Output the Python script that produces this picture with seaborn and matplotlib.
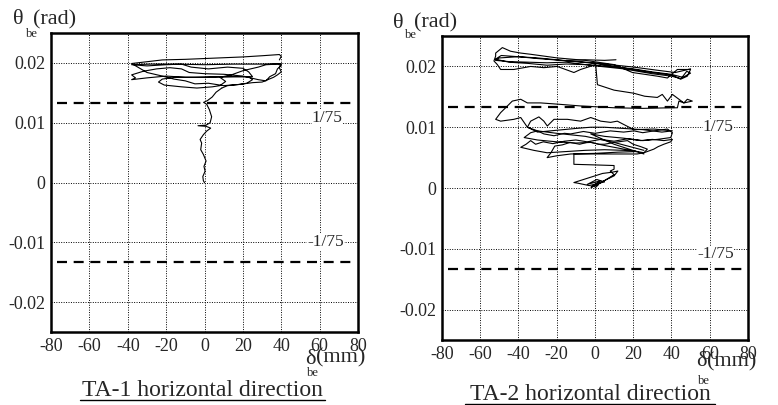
import matplotlib
matplotlib.use("Agg")
import matplotlib.pyplot as plt
import seaborn as sns
from matplotlib.lines import Line2D

sns.set_style("white")
plt.rcParams['font.family'] = ['Liberation Serif', 'DejaVu Serif']
plt.rcParams['axes.unicode_minus'] = False

# ---- data ----
x_ticks = [-80, -60, -40, -20, 0, 20, 40, 60, 80]
y_ticks = [-0.02, -0.01, 0, 0.01, 0.02]
y_tick_labels = ['-0.02', '-0.01', '0', '0.01', '0.02']
limit = 1 / 75

# TA-1: climb from origin, then loops at the top
ta1_rise_x = [0.0, -0.6, -0.9, 0.3, -0.3, 0.8, -0.6, -2.0, -1.5, -2.3, -0.6, 1.1, 3.2,
              0.8, -3.4, 0.8, 2.9, 3.7, 2.5, 1.1, -0.5, 1.5, 4.0, 6.0, 9.0]
ta1_rise_y = [0.0000, 0.0003, 0.0010, 0.0019, 0.0027, 0.0036, 0.0047, 0.0055, 0.0066,
              0.0072, 0.0080, 0.0086, 0.0091, 0.0094, 0.0095, 0.0096, 0.0100, 0.0110,
              0.0122, 0.0131, 0.0134, 0.0137, 0.0143, 0.0151, 0.0158]
ta1_loop_x = [9, 12, 18, 22, 25, 23, 10, -5, -15, -22, -24, -21, -12, -4, 4, 8, 11, 8,
              14, 20, 24, 28, 32, 38, 40, 38, 37, 34, 32, 28, 20, 10, 0, -8, -12, -18,
              -25, -32, -38, -36, -38, -30, -20, -10, 0, 15, 25, 23, 20, 12, 2, -7, -12,
              -20, -30, -38, -28, -15, 0, 15, 30, 40, 39, 40, 38, 36, 33, 30, 25, 18,
              10, 2, -5, -10, -16, -22, -30, -38, -30, -22, -10, 5, 20, 30, 39, 40, 39]
ta1_loop_y = [0.0158, 0.0162, 0.0164, 0.0166, 0.0172, 0.0177, 0.0177, 0.0176, 0.0176,
              0.0173, 0.0168, 0.0163, 0.0160, 0.0158, 0.0160, 0.0162, 0.0169, 0.0176,
              0.0180, 0.0187, 0.0190, 0.0193, 0.0197, 0.0198, 0.0196, 0.0190, 0.0182,
              0.0177, 0.0170, 0.0172, 0.0178, 0.0181, 0.0182, 0.0184, 0.0190, 0.0192,
              0.0190, 0.0186, 0.0180, 0.0175, 0.0172, 0.0175, 0.0178, 0.0176, 0.0176,
              0.0177, 0.0177, 0.0185, 0.0191, 0.0193, 0.0190, 0.0193, 0.0198, 0.0197,
              0.0195, 0.0197, 0.0198, 0.0198, 0.0197, 0.0198, 0.0198, 0.0199, 0.0192,
              0.0185, 0.0180, 0.0176, 0.0172, 0.0168, 0.0167, 0.0164, 0.0162, 0.0166,
              0.0165, 0.0170, 0.0173, 0.0178, 0.0184, 0.0199, 0.0202, 0.0205, 0.0206,
              0.0208, 0.0210, 0.0212, 0.0214, 0.0211, 0.0205]

# TA-2: small loop at the origin, then loops growing and drifting upwards
ta2_small_x = [0, 2, -2, 3, -4, 1, 5, -3, -9, -11, -6, -2, 4, 9, 12, 10, 6, 3, -2, 5,
               10, 8, 10, 10, 0, -11, -11, -11]
ta2_small_y = [0.0000, 0.0006, 0.0002, 0.0012, 0.0006, 0.0014, 0.0010, 0.0004, 0.0008,
               0.0009, 0.0014, 0.0018, 0.0024, 0.0026, 0.0028, 0.0020, 0.0014, 0.0009,
               0.0001, 0.0012, 0.0022, 0.0028, 0.0031, 0.0037, 0.0038, 0.0039, 0.0048,
               0.0056]
ta2_c1_x = [-11, 0, 10, 22, 25.6, 27.4, 24, 20, 17, 10, 5, 2, -3, -8, -13, -17, -21, -23,
            -25, -20, -12.7, 0, 12, 22]
ta2_c1_y = [0.0056, 0.0056, 0.0056, 0.0056, 0.0058, 0.0064, 0.0068, 0.0072, 0.0078,
            0.0075, 0.0072, 0.0072, 0.0076, 0.0072, 0.0075, 0.0071, 0.0069, 0.0058,
            0.0050, 0.0053, 0.0056, 0.0057, 0.0059, 0.0060]
ta2_c2_x = [22, 15, 5, -5, -15, -25, -32, -38.8, -36, -33.6, -31, -27, -22, -16, -10,
            -4, 3, 10, 17, 24, 30, 36, 40.5, 39.6, 36, 33, 30.8, 25.6, 15, 5, -2.2,
            -10, -20, -30, -37, -33.6, -30, -26.7, -21.4, -16, -12.7, -6, 0, 8, 15,
            20.4, 25, 30.8, 37.9, 40.5, 39.6, 32.6, 25, 15, 5, -2.2, 10, 25.6]
ta2_c2_y = [0.0060, 0.0062, 0.0063, 0.0062, 0.0060, 0.0058, 0.0062, 0.0067, 0.0072,
            0.0078, 0.0072, 0.0076, 0.0073, 0.0077, 0.0079, 0.0076, 0.0080, 0.0077,
            0.0081, 0.0078, 0.0080, 0.0078, 0.0080, 0.0076, 0.0072, 0.0068, 0.0064,
            0.0058, 0.0064, 0.0070, 0.0075, 0.0074, 0.0076, 0.0079, 0.0083, 0.0091,
            0.0094, 0.0089, 0.0086, 0.0090, 0.0089, 0.0093, 0.0090, 0.0094, 0.0092,
            0.0094, 0.0091, 0.0094, 0.0097, 0.0091, 0.0083, 0.0080, 0.0078, 0.0082,
            0.0085, 0.0089, 0.0072, 0.0056]
ta2_c3_x = [25.6, 10, -5, -20, -30, -35.3, -33.6, -29.3, -26.7, -24.9, -21.4, -14.4,
            -7.5, -2.2, 3, 8.2, 11.7, 16, 20.4, 30.8, 40.5, 35, 25, 15, 5, -2.2, -10,
            -20, -30, -35.3, -38.8, -42.4, -49.3, -51.9, -49.3, -46.7, -43.2, -38.8,
            -35.3, -28.4, -19.7, -7.5, 10, 25, 39.6, 43.1, 43.9, 46.5, 48.3, 50.9,
            46.5, 40.5, 37.9, 35.2, 32.6, 26, 20.2, 10, 1.3, 0.4]
ta2_c3_y = [0.0062, 0.0075, 0.0085, 0.0090, 0.0094, 0.0100, 0.0110, 0.0117, 0.0110,
            0.0102, 0.0113, 0.0113, 0.0110, 0.0116, 0.0110, 0.0108, 0.0110, 0.0103,
            0.0096, 0.0097, 0.0094, 0.0092, 0.0096, 0.0098, 0.0100, 0.0100, 0.0098,
            0.0095, 0.0092, 0.0100, 0.0116, 0.0113, 0.0110, 0.0113, 0.0124, 0.0132,
            0.0143, 0.0146, 0.0140, 0.0140, 0.0138, 0.0135, 0.0132, 0.0131, 0.0132,
            0.0132, 0.0143, 0.0140, 0.0146, 0.0143, 0.0140, 0.0154, 0.0143, 0.0154,
            0.0149, 0.0151, 0.0156, 0.0161, 0.0170, 0.0203]
ta2_top_x = [0.4, -7.5, -11, -19.7, -26.7, -33.6, -42.4, -49.3, -51, -52.8, -51.9,
             -51.9, -48.4, -44.1, -38.8, -33.6, -19.7, -5, 10, 19.6, 32.6, 37.9, 43.1,
             50, 48.3, 44.8, 40, 30, 20, 10, 0, -10, -20, -30, -40, -50, -52, -45, -35,
             -25, -15, 0, 15, 30, 40, 45, 48, 50, 46, 40, 30, 20, 8, -5, -15, -25, -35,
             -45, -52, -49, -40, -30, -18, -5, 8, 20, 32, 42, 46, 50]
ta2_top_y = [0.0203, 0.0195, 0.0190, 0.0200, 0.0198, 0.0200, 0.0195, 0.0195, 0.0203,
             0.0209, 0.0217, 0.0222, 0.0231, 0.0225, 0.0222, 0.0220, 0.0214, 0.0210,
             0.0203, 0.0190, 0.0184, 0.0181, 0.0195, 0.0195, 0.0184, 0.0179, 0.0186,
             0.0190, 0.0195, 0.0200, 0.0205, 0.0208, 0.0211, 0.0214, 0.0216, 0.0214,
             0.0210, 0.0208, 0.0207, 0.0206, 0.0207, 0.0201, 0.0196, 0.0188, 0.0184,
             0.0180, 0.0192, 0.0189, 0.0182, 0.0187, 0.0191, 0.0196, 0.0200, 0.0203,
             0.0204, 0.0202, 0.0205, 0.0207, 0.0212, 0.0218, 0.0216, 0.0213, 0.0210,
             0.0207, 0.0203, 0.0199, 0.0194, 0.0190, 0.0193, 0.0196]
ta2_last_x = [-15, -5, 5, 11]
ta2_last_y = [0.0210, 0.0211, 0.0210, 0.0211]

panels = [
    dict(rect=[0.0656, 0.180, 0.3946, 0.7385],
         traces=[(ta1_rise_x, ta1_rise_y), (ta1_loop_x, ta1_loop_y)],
         pos_lab=(64, 0.0108), neg_lab=(63, -0.0100)),
    dict(rect=[0.568, 0.1605, 0.3934, 0.7505],
         traces=[(ta2_small_x, ta2_small_y), (ta2_c1_x, ta2_c1_y),
                 (ta2_c2_x, ta2_c2_y), (ta2_c3_x, ta2_c3_y),
                 (ta2_top_x, ta2_top_y), (ta2_last_x, ta2_last_y)],
         pos_lab=(64.5, 0.0100), neg_lab=(63, -0.0108)),
]

fig = plt.figure(figsize=(7.78, 4.05), dpi=100)

for p in panels:
    ax = fig.add_axes(p['rect'])
    for xs, ys in p['traces']:
        sns.lineplot(x=xs, y=ys, sort=False, estimator=None, color='black',
                     linewidth=0.8, ax=ax)
    for lv in (limit, -limit):
        ax.plot([-77, 77], [lv, lv], color='black', linewidth=1.6,
                linestyle=(0, (4.5, 3)))
    ax.text(p['pos_lab'][0], p['pos_lab'][1], '1/75', ha='center', va='center',
            fontsize=12.5, bbox=dict(facecolor='white', edgecolor='none', pad=0))
    ax.text(p['neg_lab'][0], p['neg_lab'][1], '-1/75', ha='center', va='center',
            fontsize=12.5, bbox=dict(facecolor='white', edgecolor='none', pad=0))
    ax.set_xlim(-80, 80)
    ax.set_ylim(-0.025, 0.025)
    ax.set_xticks(x_ticks)
    ax.set_xticklabels([str(t) for t in x_ticks])
    ax.set_yticks(y_ticks)
    ax.set_yticklabels(y_tick_labels)
    ax.tick_params(length=0, labelsize=13, pad=4)
    ax.grid(True, color='black', linestyle=(0, (1, 1.5)), linewidth=0.7)
    for s in ax.spines.values():
        s.set_linewidth(1.8)
        s.set_color('black')

W, H = 778, 405
def ftxt(px, py, s, size, **kw):
    fig.text(px / W, 1 - py / H, s, fontsize=size, **kw)

# axis labels
ftxt(13, 20, 'θ', 16, va='center')
ftxt(26, 34, 'be', 9, va='center')
ftxt(33, 20, '(rad)', 16, va='center')
ftxt(393, 23, 'θ', 16, va='center')
ftxt(405, 35, 'be', 9, va='center')
ftxt(414, 23, '(rad)', 16, va='center')
ftxt(305, 359, 'δ', 16, va='center')
ftxt(307, 373, 'be', 9, va='center')
ftxt(316, 358, '(mm)', 16, va='center')
ftxt(696, 361, 'δ', 16, va='center')
ftxt(698, 381, 'be', 9, va='center')
ftxt(707, 362, '(mm)', 16, va='center')

# underlined titles
for cx, by, x0, x1, uy, s in [(202, 396, 80, 325, 400, 'TA-1 horizontal direction'),
                              (590, 400, 465, 715, 403.5, 'TA-2 horizontal direction')]:
    ftxt(cx, by, s, 17, ha='center', va='baseline')
    fig.add_artist(Line2D([x0 / W, x1 / W], [1 - uy / H, 1 - uy / H],
                          color='black', linewidth=1.0, transform=fig.transFigure))

fig.savefig('out.png', dpi=100)
